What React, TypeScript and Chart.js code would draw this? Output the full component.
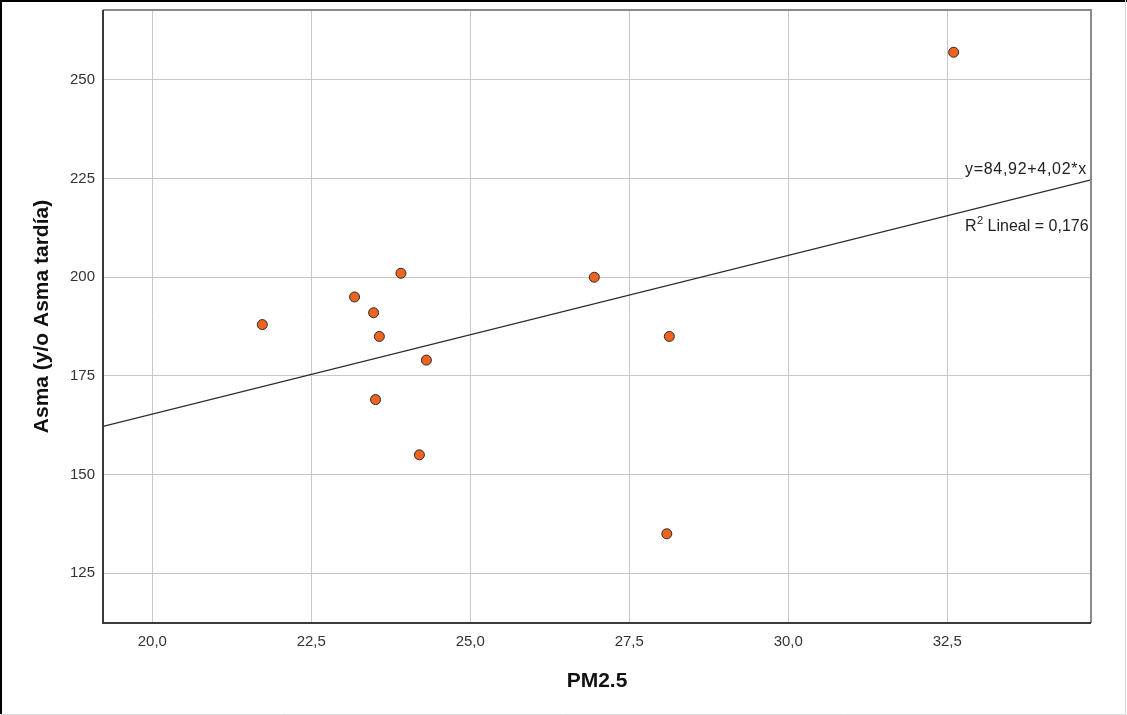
import React, { useEffect, useRef } from "react";
import { Chart, registerables } from "chart.js";

Chart.register(...registerables);

// ---- data ----
const pm25 = [21.73, 23.18, 23.48, 23.57, 23.91, 23.51, 24.31, 24.2, 26.95, 28.13, 28.09, 32.6];
const asma = [188, 195, 191, 185, 201, 169, 179, 155, 200, 185, 135, 257];
const xTicks = [20, 22.5, 25, 27.5, 30, 32.5];
const yTicks = [125, 150, 175, 200, 225, 250];
const xRange = [19.225, 34.76];
const yRange = [112.4, 267.7];
const fitIntercept = 84.92;
const fitSlope = 4.02;
const equationLabel = "y=84,92+4,02*x";
const r2Label = "Lineal = 0,176";
const xTitle = "PM2.5";
const yTitle = "Asma (y/o Asma tardía)";

const FONT = "'Liberation Sans', Arial, sans-serif";

const decoPlugin = {
  id: "deco",
  beforeDraw(chart: any) {
    const ctx = chart.ctx;
    ctx.save();
    ctx.fillStyle = "#ffffff";
    ctx.fillRect(0, 0, chart.width, chart.height);
    ctx.restore();
  },
  beforeDatasetsDraw(chart: any) {
    const ctx = chart.ctx;
    const a = chart.chartArea;
    const ys = chart.scales.y;
    const yEq = ys.getPixelForValue(227.2);
    ctx.save();
    ctx.fillStyle = "#ffffff";
    ctx.fillRect(a.right - 128, yEq - 11, 127, 25);
    ctx.font = `16px ${FONT}`;
    ctx.fillStyle = "#222";
    ctx.textBaseline = "middle";
    ctx.textAlign = "left";
    try { (ctx as any).letterSpacing = "0.7px"; } catch (e) {}
    ctx.fillText(equationLabel, a.right - 126, yEq);
    try { (ctx as any).letterSpacing = "0px"; } catch (e) {}
    const yR = ys.getPixelForValue(212.8);
    const x0 = a.right - 126;
    ctx.font = `16px ${FONT}`;
    ctx.fillText("R", x0, yR);
    const rw = ctx.measureText("R").width;
    ctx.font = `11px ${FONT}`;
    ctx.fillText("2", x0 + rw + 0.5, yR - 6);
    const tw = ctx.measureText("2").width;
    ctx.font = `16px ${FONT}`;
    ctx.fillText(" " + r2Label, x0 + rw + tw + 0.5, yR);
    ctx.restore();
  },
  afterDraw(chart: any) {
    const ctx = chart.ctx;
    const a = chart.chartArea;
    ctx.save();
    // plot border
    ctx.lineWidth = 2;
    ctx.strokeStyle = "#8a8a8a";
    ctx.beginPath();
    ctx.moveTo(a.left, a.top);
    ctx.lineTo(a.right, a.top);
    ctx.lineTo(a.right, a.bottom);
    ctx.stroke();
    ctx.strokeStyle = "#3a3a3a";
    ctx.beginPath();
    ctx.moveTo(a.left, a.top);
    ctx.lineTo(a.left, a.bottom);
    ctx.lineTo(a.right, a.bottom);
    ctx.stroke();
    // outer frame
    ctx.strokeStyle = "#000";
    ctx.lineWidth = 2;
    ctx.beginPath();
    ctx.moveTo(1, chart.height);
    ctx.lineTo(1, 1);
    ctx.lineTo(chart.width, 1);
    ctx.stroke();
    ctx.strokeStyle = "#d9d9d9";
    ctx.lineWidth = 1;
    ctx.beginPath();
    ctx.moveTo(chart.width - 1.5, 0);
    ctx.lineTo(chart.width - 1.5, chart.height - 0.5);
    ctx.lineTo(0, chart.height - 0.5);
    ctx.stroke();
    ctx.restore();
  },
};

export default function App() {
  const ref = useRef<HTMLCanvasElement | null>(null);
  useEffect(() => {
    document.body.style.margin = "0";
    const canvas = ref.current!;
    const points = pm25.map((x, i) => ({ x, y: asma[i] }));
    const fit = [xRange[0], xRange[1]].map((x) => ({ x, y: fitIntercept + fitSlope * x }));
    const chart = new Chart(canvas, {
      type: "scatter",
      data: {
        datasets: [
          {
            type: "line",
            data: fit,
            borderColor: "#2a2a2a",
            borderWidth: 1.3,
            pointRadius: 0,
            fill: false,
            order: 2,
          } as any,
          {
            type: "scatter",
            data: points,
            backgroundColor: "#ee6420",
            borderColor: "#2b2b2b",
            borderWidth: 1,
            pointRadius: 5,
            order: 1,
          },
        ],
      },
      options: {
        animation: false,
        responsive: false,
        devicePixelRatio: 1,
        layout: { padding: { top: 10, right: 36, left: 0, bottom: 0 } },
        plugins: { legend: { display: false }, tooltip: { enabled: false } },
        scales: {
          x: {
            type: "linear",
            min: xRange[0],
            max: xRange[1],
            afterFit: (s: any) => {
              s.height = 92;
              s.paddingLeft = 0;
              s.paddingRight = 0;
            },
            afterBuildTicks: (s: any) => {
              s.ticks = xTicks.map((v) => ({ value: v }));
            },
            grid: { color: "#c8c8c8", lineWidth: 1, drawTicks: false },
            border: { display: false },
            ticks: {
              padding: 10,
              color: "#333",
              font: { family: FONT, size: 15 },
              callback: (v: any) => Number(v).toFixed(1).replace(".", ","),
            },
            title: {
              display: true,
              text: xTitle,
              color: "#111",
              font: { family: FONT, size: 21, weight: "bold" },
              padding: { top: 0, bottom: 21 },
            },
          },
          y: {
            type: "linear",
            min: yRange[0],
            max: yRange[1],
            afterFit: (s: any) => {
              s.width = 103;
              s.paddingTop = 0;
              s.paddingBottom = 0;
            },
            afterBuildTicks: (s: any) => {
              s.ticks = yTicks.map((v) => ({ value: v }));
            },
            grid: { color: "#c8c8c8", lineWidth: 1, drawTicks: false },
            border: { display: false },
            ticks: {
              padding: 8,
              color: "#333",
              font: { family: FONT, size: 15 },
              callback: (v: any) => String(v),
            },
            title: {
              display: true,
              text: yTitle,
              color: "#111",
              font: { family: FONT, size: 21, weight: "bold" },
              padding: { top: 30, bottom: 0 },
            },
          },
        },
      },
      plugins: [decoPlugin],
    });
    return () => chart.destroy();
  }, []);
  return <canvas ref={ref} width={1127} height={715} style={{ display: "block" }} />;
}
